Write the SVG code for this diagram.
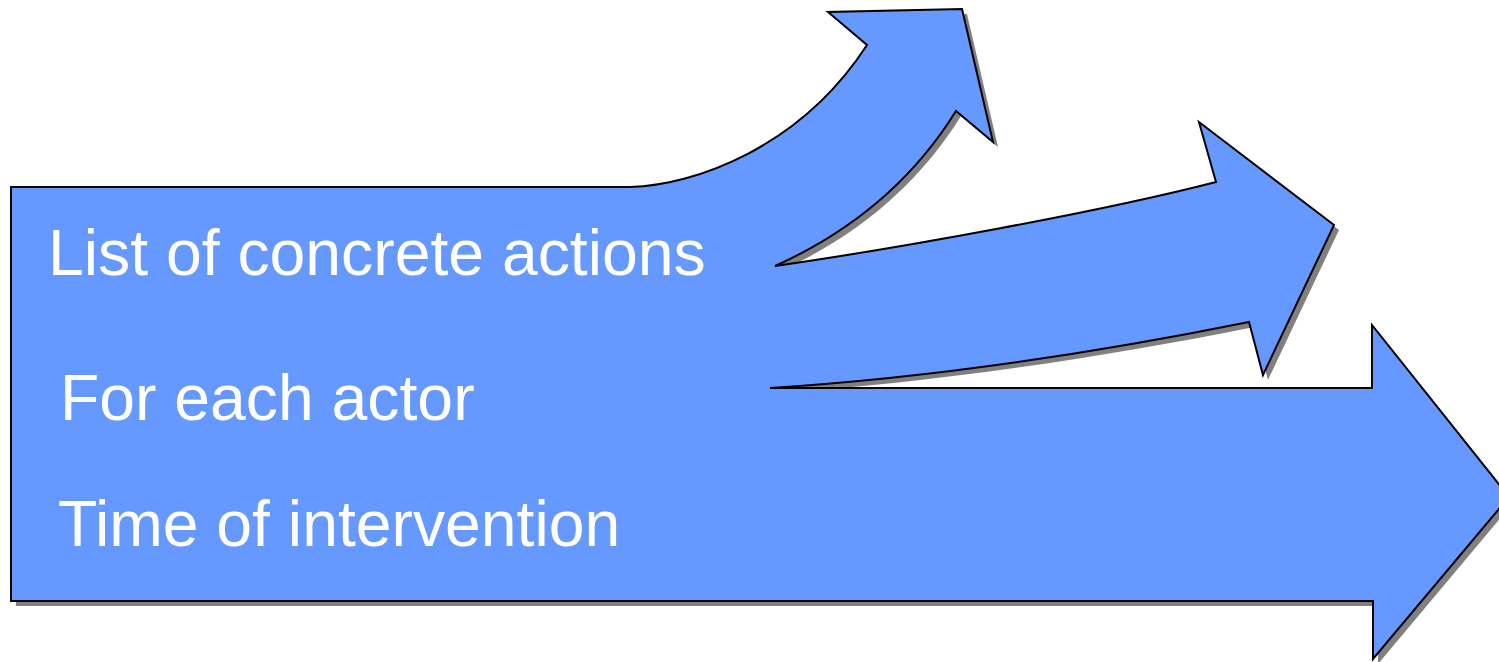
<svg xmlns="http://www.w3.org/2000/svg" xmlns:xlink="http://www.w3.org/1999/xlink" width="1499" height="662" viewBox="0 0 1499 662">
<style>
.shadow{fill:#808080;stroke:none}
.body{fill:#6699ff;stroke:#000;stroke-width:2;stroke-linejoin:miter}
.lbl{font-family:"Liberation Sans",Arial,sans-serif;font-size:64.3px;fill:#fff}
</style>
<defs>
<path id="shape" d="M11,187 L630,187 C695,185 800,148 867,45 L828,12 L962,9 L993,142 L956,111 C915,177 855,230 775,266 C900,248 1100,212 1216,182 L1199,122 L1334,225 L1263,375 L1249,322 C1100,352 930,378 770,388 L1372,388 L1372,325 L1509,497 L1373,659 L1373,601 L11,601 Z"/>
</defs>
<g id="node-arrows">
<use xlink:href="#shape" class="shadow" transform="translate(5,5)"/>
<use xlink:href="#shape" class="body"/>
</g>
<g id="node-labels">
<text class="lbl" x="48" y="275">List of concrete actions</text>
<text class="lbl" x="60" y="420">For each actor</text>
<text class="lbl" x="58" y="546">Time of intervention</text>
</g>
</svg>
